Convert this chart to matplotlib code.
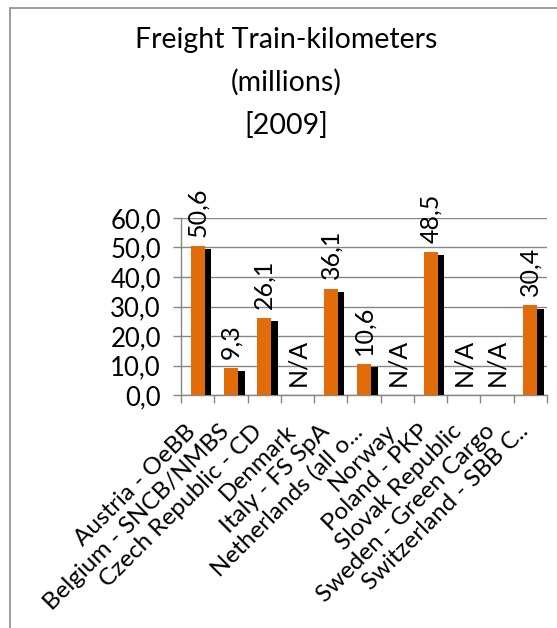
import matplotlib.pyplot as plt
from matplotlib import patheffects as pe
from matplotlib.patches import Rectangle
import numpy as np

operators = ['Austria - OeBB', 'Belgium - SNCB/NMBS', 'Czech Republic - CD', 'Denmark',
             'Italy - FS SpA', 'Netherlands (all o...', 'Norway', 'Poland - PKP',
             'Slovak Republic', 'Sweden - Green Cargo', 'Switzerland - SBB C..']
train_km = [50.6, 9.3, 26.1, None, 36.1, 10.6, None, 48.5, None, None, 30.4]
y_ticks = [0, 10, 20, 30, 40, 50, 60]

orange = '#E36C0A'
gray = '#868686'

plt.rcParams['font.family'] = ['Lato', 'DejaVu Sans']
fig = plt.figure(figsize=(5.57, 6.28), dpi=100)
ax = fig.add_axes([181 / 557, 1 - 395 / 628, 366 / 557, 177 / 628])

x = np.arange(len(operators))
heights = [v if v is not None else 0 for v in train_km]
bars = ax.bar(x, heights, 0.42, color=orange, zorder=3)
shadow = [pe.SimplePatchShadow(offset=(4.8, -2.3), shadow_rgbFace='black', alpha=1.0), pe.Normal()]
for b in bars:
    b.set_path_effects(shadow)

for i, v in enumerate(train_km):
    txt = 'N/A' if v is None else f'{v:.1f}'.replace('.', ',')
    ax.annotate(txt, (i, 0 if v is None else v), xytext=(0, 6.5), textcoords='offset points',
                rotation=90, ha='center', va='bottom', fontsize=18, color='black')

# category labels, set a bit left of the category centre like the original
for i, name in enumerate(operators):
    ax.annotate(name, (i, 0), xycoords=('data', 'axes fraction'), xytext=(-9, -18.5),
                textcoords='offset points', rotation=45, ha='right', va='top',
                rotation_mode='anchor', fontsize=17.5, annotation_clip=False)

ax.set_xlim(-0.5, len(operators) - 0.5)
ax.set_ylim(0, 60)
ax.set_yticks(y_ticks)
ax.set_yticklabels([f'{t:.1f}'.replace('.', ',') for t in y_ticks], fontsize=18.5)
ax.set_xticks(np.arange(-0.5, len(operators)))
ax.set_xticklabels([])
ax.tick_params(axis='x', length=5.5, color=gray, width=1)
ax.tick_params(axis='y', length=5.5, color=gray, width=1, pad=9)

ax.grid(True, axis='y', color=gray, linewidth=1)
ax.set_axisbelow(True)
for s in ['top', 'right']:
    ax.spines[s].set_visible(False)
for s in ['left', 'bottom']:
    ax.spines[s].set_color(gray)
    ax.spines[s].set_linewidth(1)

fig.text(286 / 557, 1 - 83 / 628, 'Freight Train-kilometers\n(millions)\n[2009]',
         ha='center', va='center', fontsize=20.5, linespacing=1.75)

fig.patches.append(Rectangle((10 / 557, -0.1), 1.2, 1.1 - 8 / 628, transform=fig.transFigure,
                             fill=False, edgecolor='#8c8c8c', linewidth=1.2))

fig.savefig('out.png', dpi=100)
